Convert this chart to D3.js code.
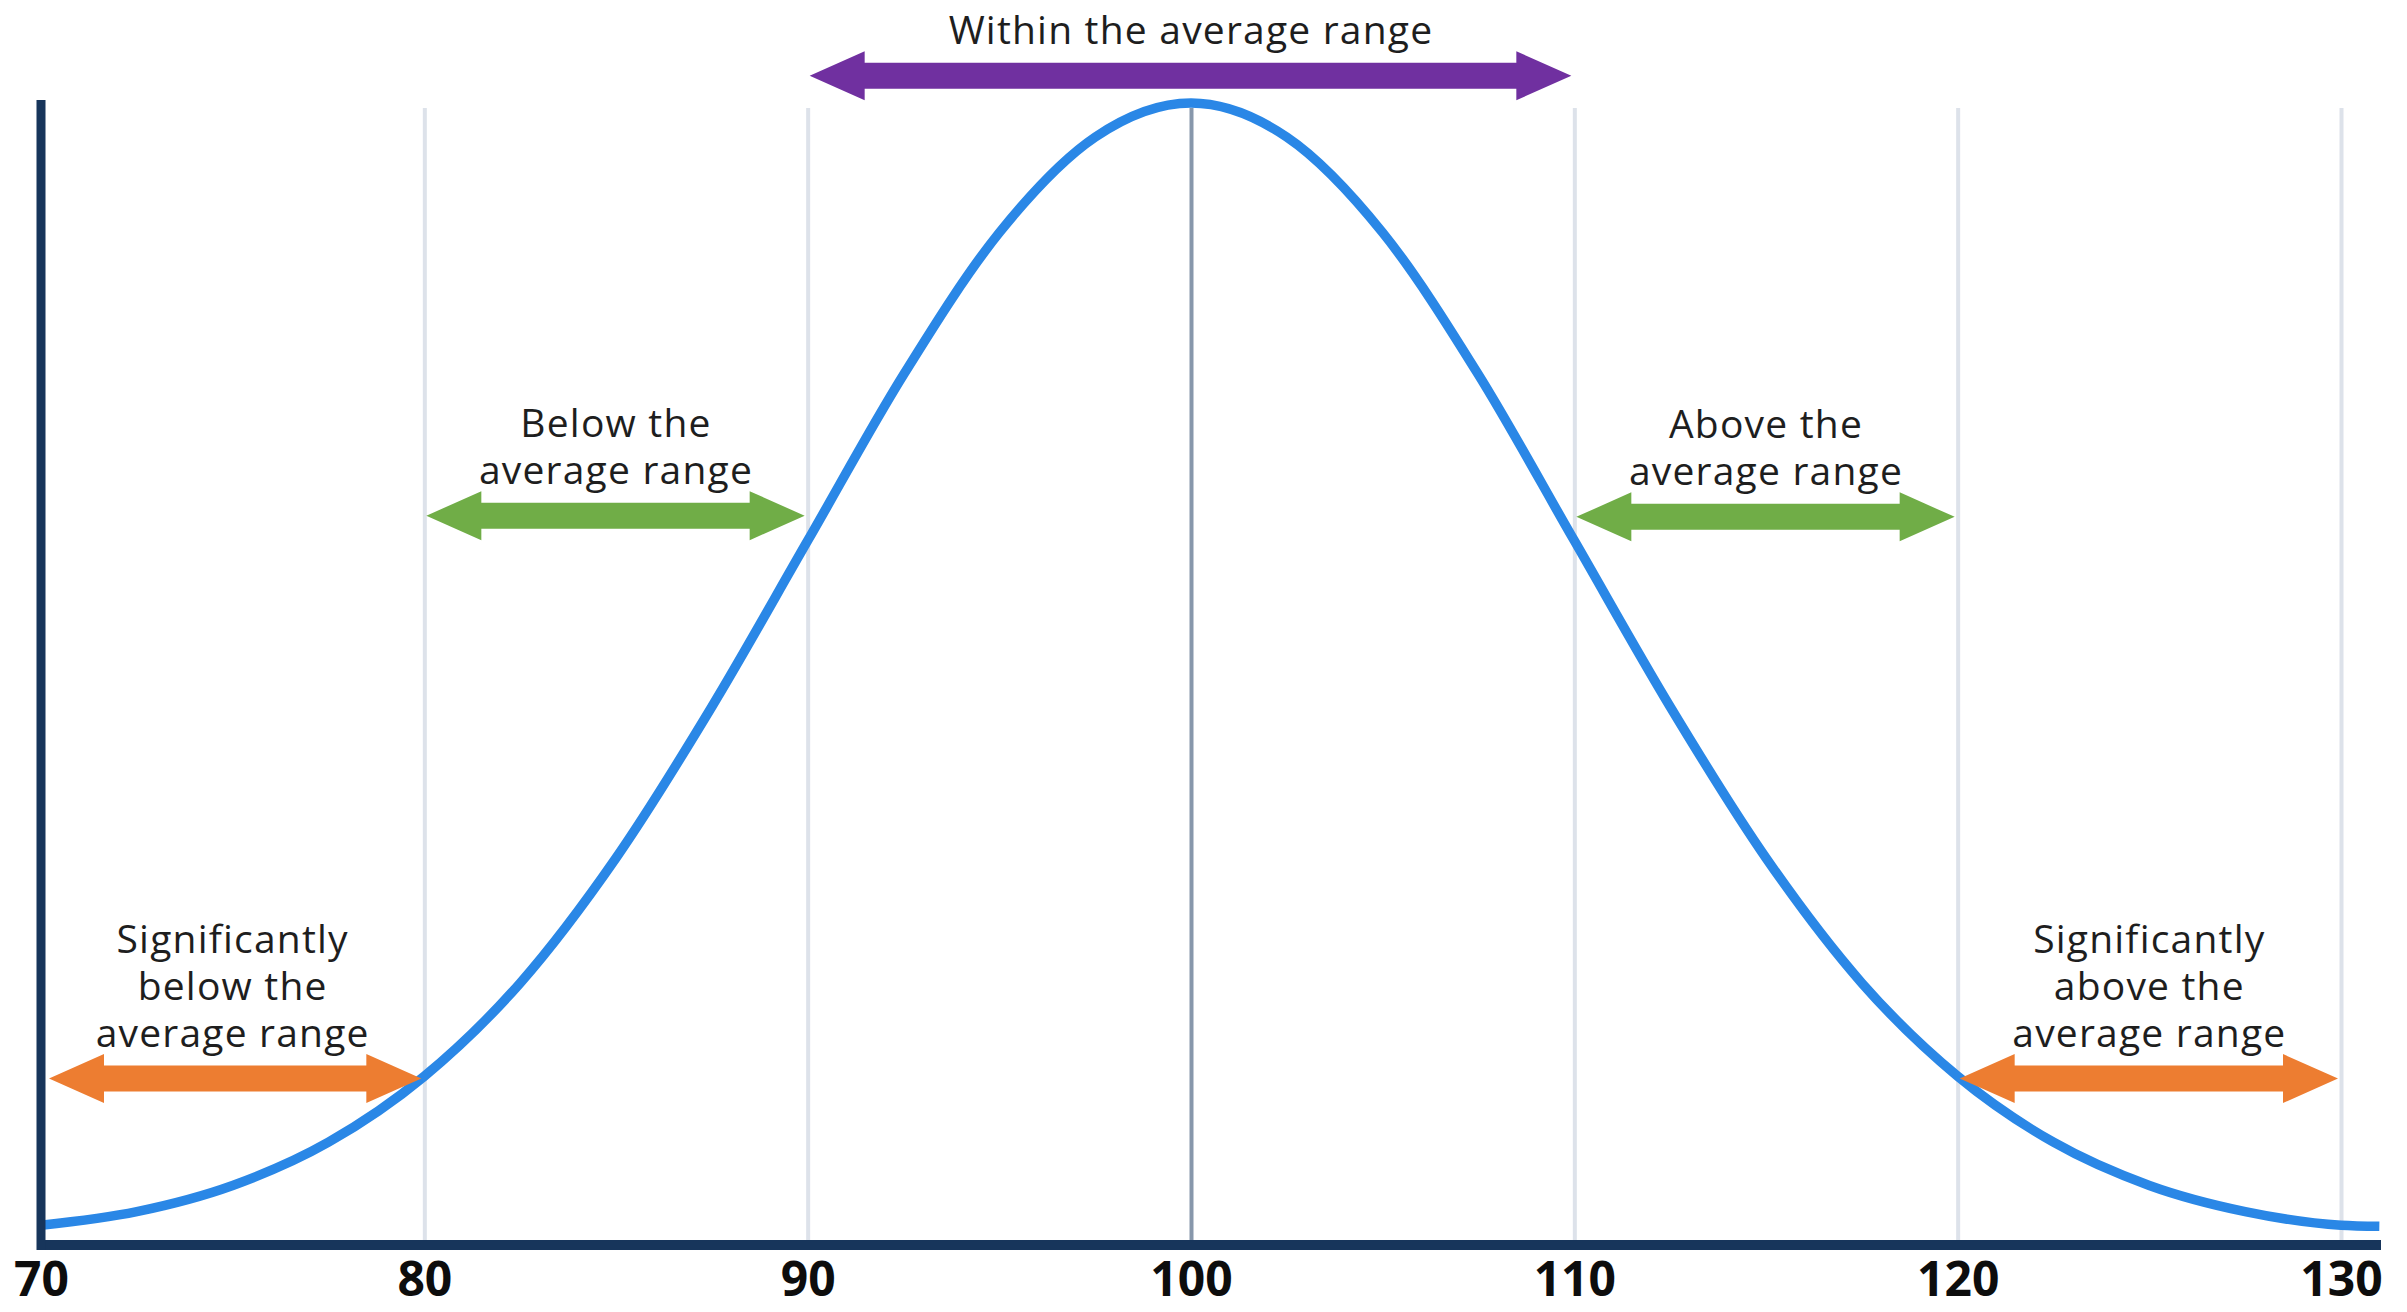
<!DOCTYPE html>
<html>
<head>
<meta charset="utf-8">
<script src="https://cdn.jsdelivr.net/npm/d3@7"></script>
<style>
  body { margin: 0; background: #fff; }
  svg { display: block; }
</style>
</head>
<body>
<script>
let w = 2407;
let h = 1312;

// score axis ticks
const xTicks = [70, 80, 90, 100, 110, 120, 130];

// bell curve, relative height
const curveX = [70, 72.5, 75, 77.5, 80, 82.5, 85, 87.5, 90, 92.5, 95, 97.5, 100,
                102.5, 105, 107.5, 110, 112.5, 115, 117.5, 120, 122.5, 125, 127.5, 130, 131.0];
const curveY = [0.013, 0.025, 0.048, 0.086, 0.144, 0.226, 0.336, 0.469, 0.615, 0.761, 0.886, 0.970, 1.0,
                0.970, 0.886, 0.761, 0.615, 0.469, 0.336, 0.226, 0.144, 0.086, 0.048, 0.025, 0.013, 0.012];

// range bands (arrows + captions)
const bandStart = [70, 80, 90, 110, 120];
const bandEnd   = [80, 90, 110, 120, 130];
const bandLevel = [0.142, 0.637, 1.024, 0.636, 0.142];
const bandTier  = ["far", "near", "mid", "near", "far"];
const bandText  = [
  ["Significantly", "below the", "average range"],
  ["Below the", "average range"],
  ["Within the average range"],
  ["Above the", "average range"],
  ["Significantly", "above the", "average range"]
];

const left = 41, right = 2341, axisY = 1245, gridTop = 108, lineEnd = 2381;

let x = d3.scaleLinear([70, 130], [left, right]);
let y = d3.scaleLinear([0, 1], [1240, 103]);
let color = d3.scaleOrdinal(["far", "near", "mid"], ["#ed7d31", "#70ad47", "#7030a0"]);

let svg = d3.select("body")
            .append("svg")
            .attr("width", w)
            .attr("height", h);

svg.append("rect").attr("width", w).attr("height", h).attr("fill", "#fff");

// gridlines + tick labels
let xAxis = d3.axisBottom(x)
              .tickValues(xTicks)
              .tickSize(-(axisY - gridTop))
              .tickPadding(17)
              .tickFormat(d3.format("d"));

let gx = svg.append("g")
            .attr("transform", `translate(0,${axisY})`)
            .call(xAxis);
gx.select(".domain").remove();
gx.selectAll(".tick line")
  .attr("stroke", d => d == 100 ? "#8797ab" : "#dde2ea")
  .attr("stroke-width", 4);
gx.selectAll(".tick text")
  .attr("fill", "#0d0d0d")
  .attr("font-family", "'Open Sans', sans-serif")
  .attr("font-weight", 700)
  .attr("font-size", 48);

// bell curve
let line = d3.line()
             .x(d => x(d[0]))
             .y(d => y(d[1]))
             .curve(d3.curveMonotoneX);

svg.append("path")
   .datum(d3.zip(curveX, curveY))
   .attr("d", line)
   .attr("fill", "none")
   .attr("stroke", "#2a87e6")
   .attr("stroke-width", 9.5);

// axes lines
svg.append("line")
   .attr("x1", left - 4).attr("x2", lineEnd)
   .attr("y1", axisY).attr("y2", axisY)
   .attr("stroke", "#17355b")
   .attr("stroke-width", 10);
svg.append("line")
   .attr("x1", left).attr("x2", left)
   .attr("y1", 100).attr("y2", axisY + 5)
   .attr("stroke", "#17355b")
   .attr("stroke-width", 9);

// double-headed arrow shape
const arrowPath = (x1, x2, cy) => {
    let hl = 55, hh = 24.5, sh = 13;
    return `M${x1},${cy} L${x1 + hl},${cy - hh} L${x1 + hl},${cy - sh} L${x2 - hl},${cy - sh} ` +
           `L${x2 - hl},${cy - hh} L${x2},${cy} L${x2 - hl},${cy + hh} L${x2 - hl},${cy + sh} ` +
           `L${x1 + hl},${cy + sh} L${x1 + hl},${cy + hh} Z`;
};

let bands = bandStart.map((s, i) => ({
    start: s, end: bandEnd[i], level: bandLevel[i], tier: bandTier[i], text: bandText[i]
}));

let g = svg.selectAll(".band")
           .data(bands)
           .enter()
           .append("g")
           .attr("class", "band");

g.append("path")
 .attr("d", d => arrowPath(x(d.start) + (d.start == 70 ? 8 : 2), x(d.end) - 3, y(d.level)))
 .attr("fill", d => color(d.tier));

g.each(function(d) {
    let n = d.text.length;
    let t = d3.select(this).append("text")
              .attr("text-anchor", "middle")
              .attr("font-family", "'Open Sans', sans-serif")
              .attr("font-size", 39)
              .attr("letter-spacing", 1.2)
              .attr("fill", "#1e1e1e")
              .attr("stroke", "#fff")
              .attr("stroke-width", 4)
              .attr("paint-order", "stroke");
    d.text.forEach((s, i) => {
        t.append("tspan")
         .attr("x", x((d.start + d.end) / 2))
         .attr("y", y(d.level) - 32 - (n - 1 - i) * 47)
         .text(s);
    });
});
</script>
</body>
</html>
